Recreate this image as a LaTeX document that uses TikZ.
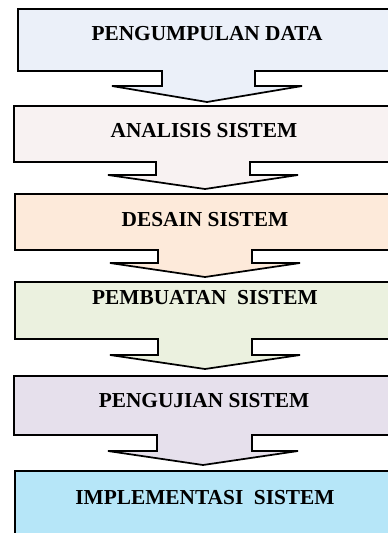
\documentclass[tikz,border=0pt]{standalone}
\usepackage{fontspec}
\setmainfont{Liberation Serif}
\definecolor{cA}{HTML}{EBF0F9}
\definecolor{cB}{HTML}{F8F2F2}
\definecolor{cC}{HTML}{FDEADA}
\definecolor{cD}{HTML}{EBF1DF}
\definecolor{cE}{HTML}{E6E0EC}
\definecolor{cF}{HTML}{B6E6F8}
\tikzset{
  stageshape/.style={draw=black, line width=1.3pt, line join=miter},
  stagelabel/.style={anchor=base, font=\bfseries\fontsize{16}{18}\selectfont, inner sep=0pt}
}
\begin{document}
\begin{tikzpicture}[x=0.75pt,y=-0.75pt]
\useasboundingbox (0,0) rectangle (388,533);
\clip (0,0) rectangle (388,533);
% stage 1
\draw[stageshape, fill=cA] (18,9) -- (400,9) -- (400,71) -- (255,71) -- (255,86) -- (302,86) -- (207,102) -- (112,86) -- (162,86) -- (162,71) -- (18,71) -- cycle;
% stage 2
\draw[stageshape, fill=cB] (14,106) -- (400,106) -- (400,162) -- (250,162) -- (250,175) -- (298,175) -- (205,189) -- (108,175) -- (156,175) -- (156,162) -- (14,162) -- cycle;
% stage 3
\draw[stageshape, fill=cC] (15,194) -- (400,194) -- (400,250) -- (252,250) -- (252,263) -- (300,263) -- (205,277) -- (110,263) -- (158,263) -- (158,250) -- (15,250) -- cycle;
% stage 4
\draw[stageshape, fill=cD] (15,282) -- (400,282) -- (400,339) -- (252,339) -- (252,355) -- (300,355) -- (205,369) -- (110,355) -- (158,355) -- (158,339) -- (15,339) -- cycle;
% stage 5
\draw[stageshape, fill=cE] (14,376) -- (400,376) -- (400,435) -- (252,435) -- (252,451) -- (298,451) -- (203,465) -- (108,451) -- (157,451) -- (157,435) -- (14,435) -- cycle;
% stage 6
\draw[stageshape, fill=cF] (15,540) -- (15,471) -- (400,471) -- (400,540);
% labels
\node[stagelabel] (s1) at (207,40) {PENGUMPULAN DATA};
\node[stagelabel] (s2) at (204,137) {ANALISIS SISTEM};
\node[stagelabel] (s3) at (205,226) {DESAIN SISTEM};
\node[stagelabel] (s4) at (205,304) {PEMBUATAN\ \ SISTEM};
\node[stagelabel] (s5) at (204,407) {PENGUJIAN SISTEM};
\node[stagelabel] (s6) at (205,504) {IMPLEMENTASI\ \ SISTEM};
\end{tikzpicture}
\end{document}
